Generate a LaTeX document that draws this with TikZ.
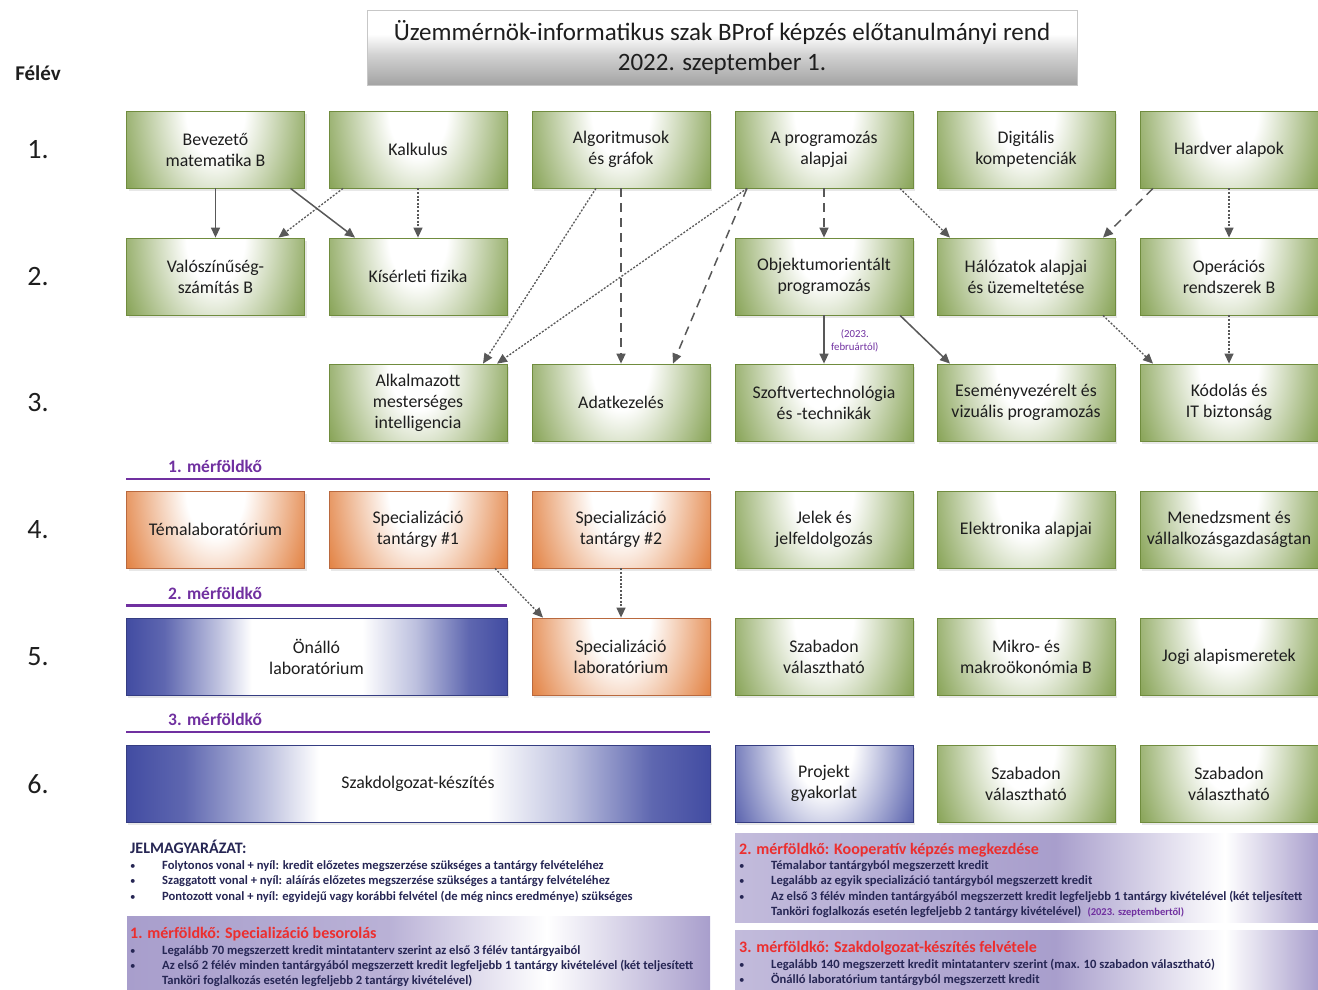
\documentclass[tikz,border=0pt]{standalone}
\usepackage{fontspec}
\setmainfont{Carlito}
\usetikzlibrary{arrows.meta,shadows}

\definecolor{cG}{RGB}{118,150,62}
\definecolor{gB}{RGB}{112,140,62}
\definecolor{cO}{RGB}{222,112,40}
\definecolor{oB}{RGB}{185,105,62}
\definecolor{cB}{RGB}{66,76,162}
\definecolor{lavC}{RGB}{168,158,204}
\definecolor{mpurple}{RGB}{112,48,160}
\definecolor{ltext}{RGB}{38,38,84}
\definecolor{redT}{RGB}{236,46,46}
\definecolor{edgeC}{RGB}{88,88,88}
\definecolor{txt}{RGB}{30,30,30}

\pgfdeclareradialshading{glowG}{\pgfpointorigin}{color(0bp)=(white); color(6bp)=(white); color(23bp)=(cG); color(50bp)=(cG)}
\pgfdeclareradialshading{glowO}{\pgfpointorigin}{color(0bp)=(white); color(6bp)=(white); color(23bp)=(cO); color(50bp)=(cO)}
\pgfdeclareradialshading{glowB}{\pgfpointorigin}{color(0bp)=(white); color(6bp)=(white); color(23bp)=(cB); color(50bp)=(cB)}
\pgfdeclarehorizontalshading{bluebar}{100bp}{color(0bp)=(cB); color(25bp)=(cB); color(30bp)=(cB!85!white); color(37bp)=(cB!35!white); color(41.5bp)=(white); color(56bp)=(white); color(63bp)=(cB!35!white); color(70bp)=(cB!85!white); color(75bp)=(cB); color(100bp)=(cB)}
\pgfdeclarehorizontalshading{lavbarA}{100bp}{color(0bp)=(lavC); color(25bp)=(lavC); color(47.5bp)=(lavC!80!white); color(61bp)=(white); color(75bp)=(lavC); color(100bp)=(lavC)}
\pgfdeclarehorizontalshading{lavbarB}{100bp}{color(0bp)=(lavC!70!white); color(25bp)=(lavC!70!white); color(52.5bp)=(lavC); color(67bp)=(white); color(75bp)=(lavC); color(100bp)=(lavC)}
\pgfdeclareverticalshading{titleshade}{100bp}{color(0bp)=(black!36); color(25bp)=(black!36); color(45bp)=(black!18); color(59bp)=(white); color(100bp)=(white)}

\tikzset{
  box/.style={line width=0.8pt, minimum width=178pt, minimum height=77pt, align=center,
    font=\fontsize{17.8}{21}\selectfont, text=txt, inner sep=2pt,
    general shadow={fill=black!9, draw=none, shadow xshift=2pt, shadow yshift=-3pt}},
  glowbox/.style={box, fill=c#1, path picture={\shade[shading=glow#1] (path picture bounding box.north) ellipse [x radius=122pt, y radius=190pt];}},
  gbox/.style={glowbox=G, draw=gB},
  obox/.style={glowbox=O, draw=oB},
  bbox/.style={glowbox=B, draw=cB!80!black},
  bbar/.style={box, shade, shading=bluebar, draw=cB!80!black},
  conn/.style={draw=edgeC, line width=1.5pt, -{Triangle[length=10pt,width=9pt]}},
  dashc/.style={conn, dash pattern=on 9pt off 6pt},
  dotc/.style={conn, line width=1.3pt, dash pattern=on 2pt off 1.6pt},
  mline/.style={draw=mpurple, line width=2.6pt},
  mlabel/.style={anchor=west, text=mpurple, font=\fontsize{17.5}{20}\selectfont\bfseries, inner sep=0pt},
  rowlab/.style={font=\fontsize{28}{32}\selectfont, text=txt},
  legh/.style={anchor=base west, inner sep=0pt, text=redT, font=\fontsize{16}{19}\selectfont\bfseries},
  legi/.style={anchor=base west, inner sep=0pt, text=ltext, font=\fontsize{12.6}{15}\selectfont\bfseries},
  bul/.style={anchor=base west, inner sep=0pt, text=ltext, font=\fontsize{11}{13}\selectfont},
}

\begin{document}
\begin{tikzpicture}[x=1pt,y=-1pt]
\useasboundingbox (0,0) rectangle (1318,989);

% title
\node[draw=black!22, line width=0.8pt, shade, shading=titleshade, minimum width=710pt, minimum height=75pt,
  align=center, font=\fontsize{25}{30}\selectfont, text=txt] (title) at (722,47.5)
  {Üzemmérnök-informatikus szak BProf képzés előtanulmányi rend\\2022. szeptember 1.};
\node[font=\fontsize{21}{24}\selectfont\bfseries, text=txt] (felev) at (38,73) {Félév};
\node[rowlab] (r1) at (38,150) {1.};
\node[rowlab] (r2) at (38,277) {2.};
\node[rowlab] (r3) at (38,403) {3.};
\node[rowlab] (r4) at (38,530) {4.};
\node[rowlab] (r5) at (38,657) {5.};
\node[rowlab] (r6) at (38,784) {6.};

% row 1
\node[gbox] (bev) at (215.5,149.5) {Bevezető\\matematika B};
\node[gbox] (kal) at (418,149.5) {Kalkulus};
\node[gbox] (alg) at (621,149.5) {Algoritmusok\\és gráfok};
\node[gbox] (prog) at (824,149.5) {A programozás\\alapjai};
\node[gbox] (dig) at (1026,149.5) {Digitális\\kompetenciák};
\node[gbox] (hw) at (1229,149.5) {Hardver alapok};
% row 2
\node[gbox] (val) at (215.5,276.5) {Valószínűség-\\számítás B};
\node[gbox] (kis) at (418,276.5) {Kísérleti fizika};
\node[gbox] (oop) at (824,276.5) {Objektumorientált\\programozás};
\node[gbox] (hal) at (1026,276.5) {Hálózatok alapjai\\és üzemeltetése};
\node[gbox] (os) at (1229,276.5) {Operációs\\rendszerek B};
% row 3
\node[gbox] (ai) at (418,402.5) {Alkalmazott\\mesterséges\\intelligencia};
\node[gbox] (adat) at (621,402.5) {Adatkezelés};
\node[gbox] (szoft) at (824,402.5) {Szoftvertechnológia\\és -technikák};
\node[gbox] (esem) at (1026,402.5) {Eseményvezérelt és\\vizuális programozás};
\node[gbox] (kod) at (1229,402.5) {Kódolás és\\IT biztonság};
% row 4
\node[obox] (tema) at (215.5,529.5) {Témalaboratórium};
\node[obox] (spec1) at (418,529.5) {Specializáció\\tantárgy \#1};
\node[obox] (spec2) at (621,529.5) {Specializáció\\tantárgy \#2};
\node[gbox] (jel) at (824,529.5) {Jelek és\\jelfeldolgozás};
\node[gbox] (elek) at (1026,529.5) {Elektronika alapjai};
\node[gbox] (men) at (1229,529.5) {Menedzsment és\\vállalkozásgazdaságtan};
% row 5
\node[bbar, minimum width=381pt] (onal) at (316.5,656.5) {Önálló\\laboratórium};
\node[obox] (speclab) at (621,656.5) {Specializáció\\laboratórium};
\node[gbox] (szab1) at (824,656.5) {Szabadon\\választható};
\node[gbox] (mikro) at (1026,656.5) {Mikro- és\\makroökonómia B};
\node[gbox] (jog) at (1229,656.5) {Jogi alapismeretek};
% row 6
\node[bbar, minimum width=584pt] (szakd) at (418,783.5) {Szakdolgozat-készítés};
\node[bbox] (proj) at (824,783.5) {Projekt\\gyakorlat};
\node[gbox] (szab2) at (1026,783.5) {Szabadon\\választható};
\node[gbox] (szab3) at (1229,783.5) {Szabadon\\választható};

% milestones
\draw[mline] (126,479) -- (710,479);
\node[mlabel] (m1) at (168,466) {1. mérföldkő};
\draw[mline] (126,605.5) -- (507,605.5);
\node[mlabel] (m2) at (168,593) {2. mérföldkő};
\draw[mline] (126,732) -- (710,732);
\node[mlabel] (m3) at (168,719) {3. mérföldkő};

% connectors
\draw[conn] (bev.south) -- (val.north);
\draw[conn] ([xshift=75pt]bev.south) -- ([xshift=-63pt]kis.north);
\draw[dotc] ([xshift=-75pt]kal.south) -- ([xshift=63pt]val.north);
\draw[dotc] (kal.south) -- (kis.north);
\draw[dotc] ([xshift=-25pt]alg.south) -- ([xshift=65pt]ai.north);
\draw[dashc] (alg.south) -- (adat.north);
\draw[dotc] ([xshift=-77pt]prog.south) -- ([xshift=79pt]ai.north);
\draw[dashc] ([xshift=-77pt]prog.south) -- ([xshift=52pt]adat.north);
\draw[dashc] (prog.south) -- (oop.north);
\draw[dotc] ([xshift=76pt]prog.south) -- ([xshift=-76pt]hal.north);
\draw[dashc] ([xshift=-76pt]hw.south) -- ([xshift=77pt]hal.north);
\draw[dotc] (hw.south) -- (os.north);
\draw[conn] (oop.south) -- node[right=3pt, pos=0.52, align=center, text=mpurple, font=\fontsize{10.8}{13}\selectfont] (febr) {(2023.\\februártól)} (szoft.north);
\draw[conn] ([xshift=76pt]oop.south) -- ([xshift=-76pt]esem.north);
\draw[dotc] ([xshift=77pt]hal.south) -- ([xshift=-76pt]kod.north);
\draw[dotc] (os.south) -- (kod.north);
\draw[dotc] ([xshift=77pt]spec1.south) -- ([xshift=-78pt]speclab.north);
\draw[dotc] (spec2.south) -- (speclab.north);

% legend
\node[anchor=base west, inner sep=0pt, text=ltext, font=\fontsize{16}{18}\selectfont\bfseries] (jel0) at (130,853) {JELMAGYARÁZAT:};
\node[bul] (b1) at (130,869) {\textbullet};
\node[legi] (l1) at (162,869) {Folytonos vonal + nyíl: kredit előzetes megszerzése szükséges a tantárgy felvételéhez};
\node[bul] (b2) at (130,884) {\textbullet};
\node[legi] (l2) at (162,884) {Szaggatott vonal + nyíl: aláírás előzetes megszerzése szükséges a tantárgy felvételéhez};
\node[bul] (b3) at (130,900) {\textbullet};
\node[legi] (l3) at (162,900) {Pontozott vonal + nyíl: egyidejű vagy korábbi felvétel (de még nincs eredménye) szükséges};

% milestone box 1
\node[shade, shading=lavbarA, draw=none, minimum width=583pt, minimum height=75pt, anchor=north west, inner sep=0pt] (mb1) at (127,916) {};
\node[legh] (h1) at (130,938) {1. mérföldkő: Specializáció besorolás};
\node[bul] (b11) at (130,954) {\textbullet};
\node[legi] (t11) at (162,954) {Legalább 70 megszerzett kredit mintatanterv szerint az első 3 félév tantárgyaiból};
\node[bul] (b12) at (130,969) {\textbullet};
\node[legi] (t12) at (162,969) {Az első 2 félév minden tantárgyából megszerzett kredit legfeljebb 1 tantárgy kivételével (két teljesített};
\node[legi] (t13) at (162,984) {Tanköri foglalkozás esetén legfeljebb 2 tantárgy kivételével)};

% milestone box 2
\node[shade, shading=lavbarB, draw=none, minimum width=583pt, minimum height=89pt, anchor=north west, inner sep=0pt] (mb2) at (735,833) {};
\node[legh] (h2) at (739,854) {2. mérföldkő: Kooperatív képzés megkezdése};
\node[bul] (b21) at (739,869) {\textbullet};
\node[legi] (t21) at (771,869) {Témalabor tantárgyból megszerzett kredit};
\node[bul] (b22) at (739,884) {\textbullet};
\node[legi] (t22) at (771,884) {Legalább az egyik specializáció tantárgyból megszerzett kredit};
\node[bul] (b23) at (739,900) {\textbullet};
\node[legi] (t23) at (771,900) {Az első 3 félév minden tantárgyából megszerzett kredit legfeljebb 1 tantárgy kivételével (két teljesített};
\node[legi] (t24) at (771,915) {Tanköri foglalkozás esetén legfeljebb 2 tantárgy kivételével)\enspace{\color{mpurple}\fontsize{10.5}{12}\selectfont(2023. szeptembertől)}};

% milestone box 3
\node[shade, shading=lavbarB, draw=none, minimum width=583pt, minimum height=61pt, anchor=north west, inner sep=0pt] (mb3) at (735,930) {};
\node[legh] (h3) at (739,952) {3. mérföldkő: Szakdolgozat-készítés felvétele};
\node[bul] (b31) at (739,968) {\textbullet};
\node[legi] (t31) at (771,968) {Legalább 140 megszerzett kredit mintatanterv szerint (max. 10 szabadon választható)};
\node[bul] (b32) at (739,983) {\textbullet};
\node[legi] (t32) at (771,983) {Önálló laboratórium tantárgyból megszerzett kredit};
\end{tikzpicture}
\end{document}
